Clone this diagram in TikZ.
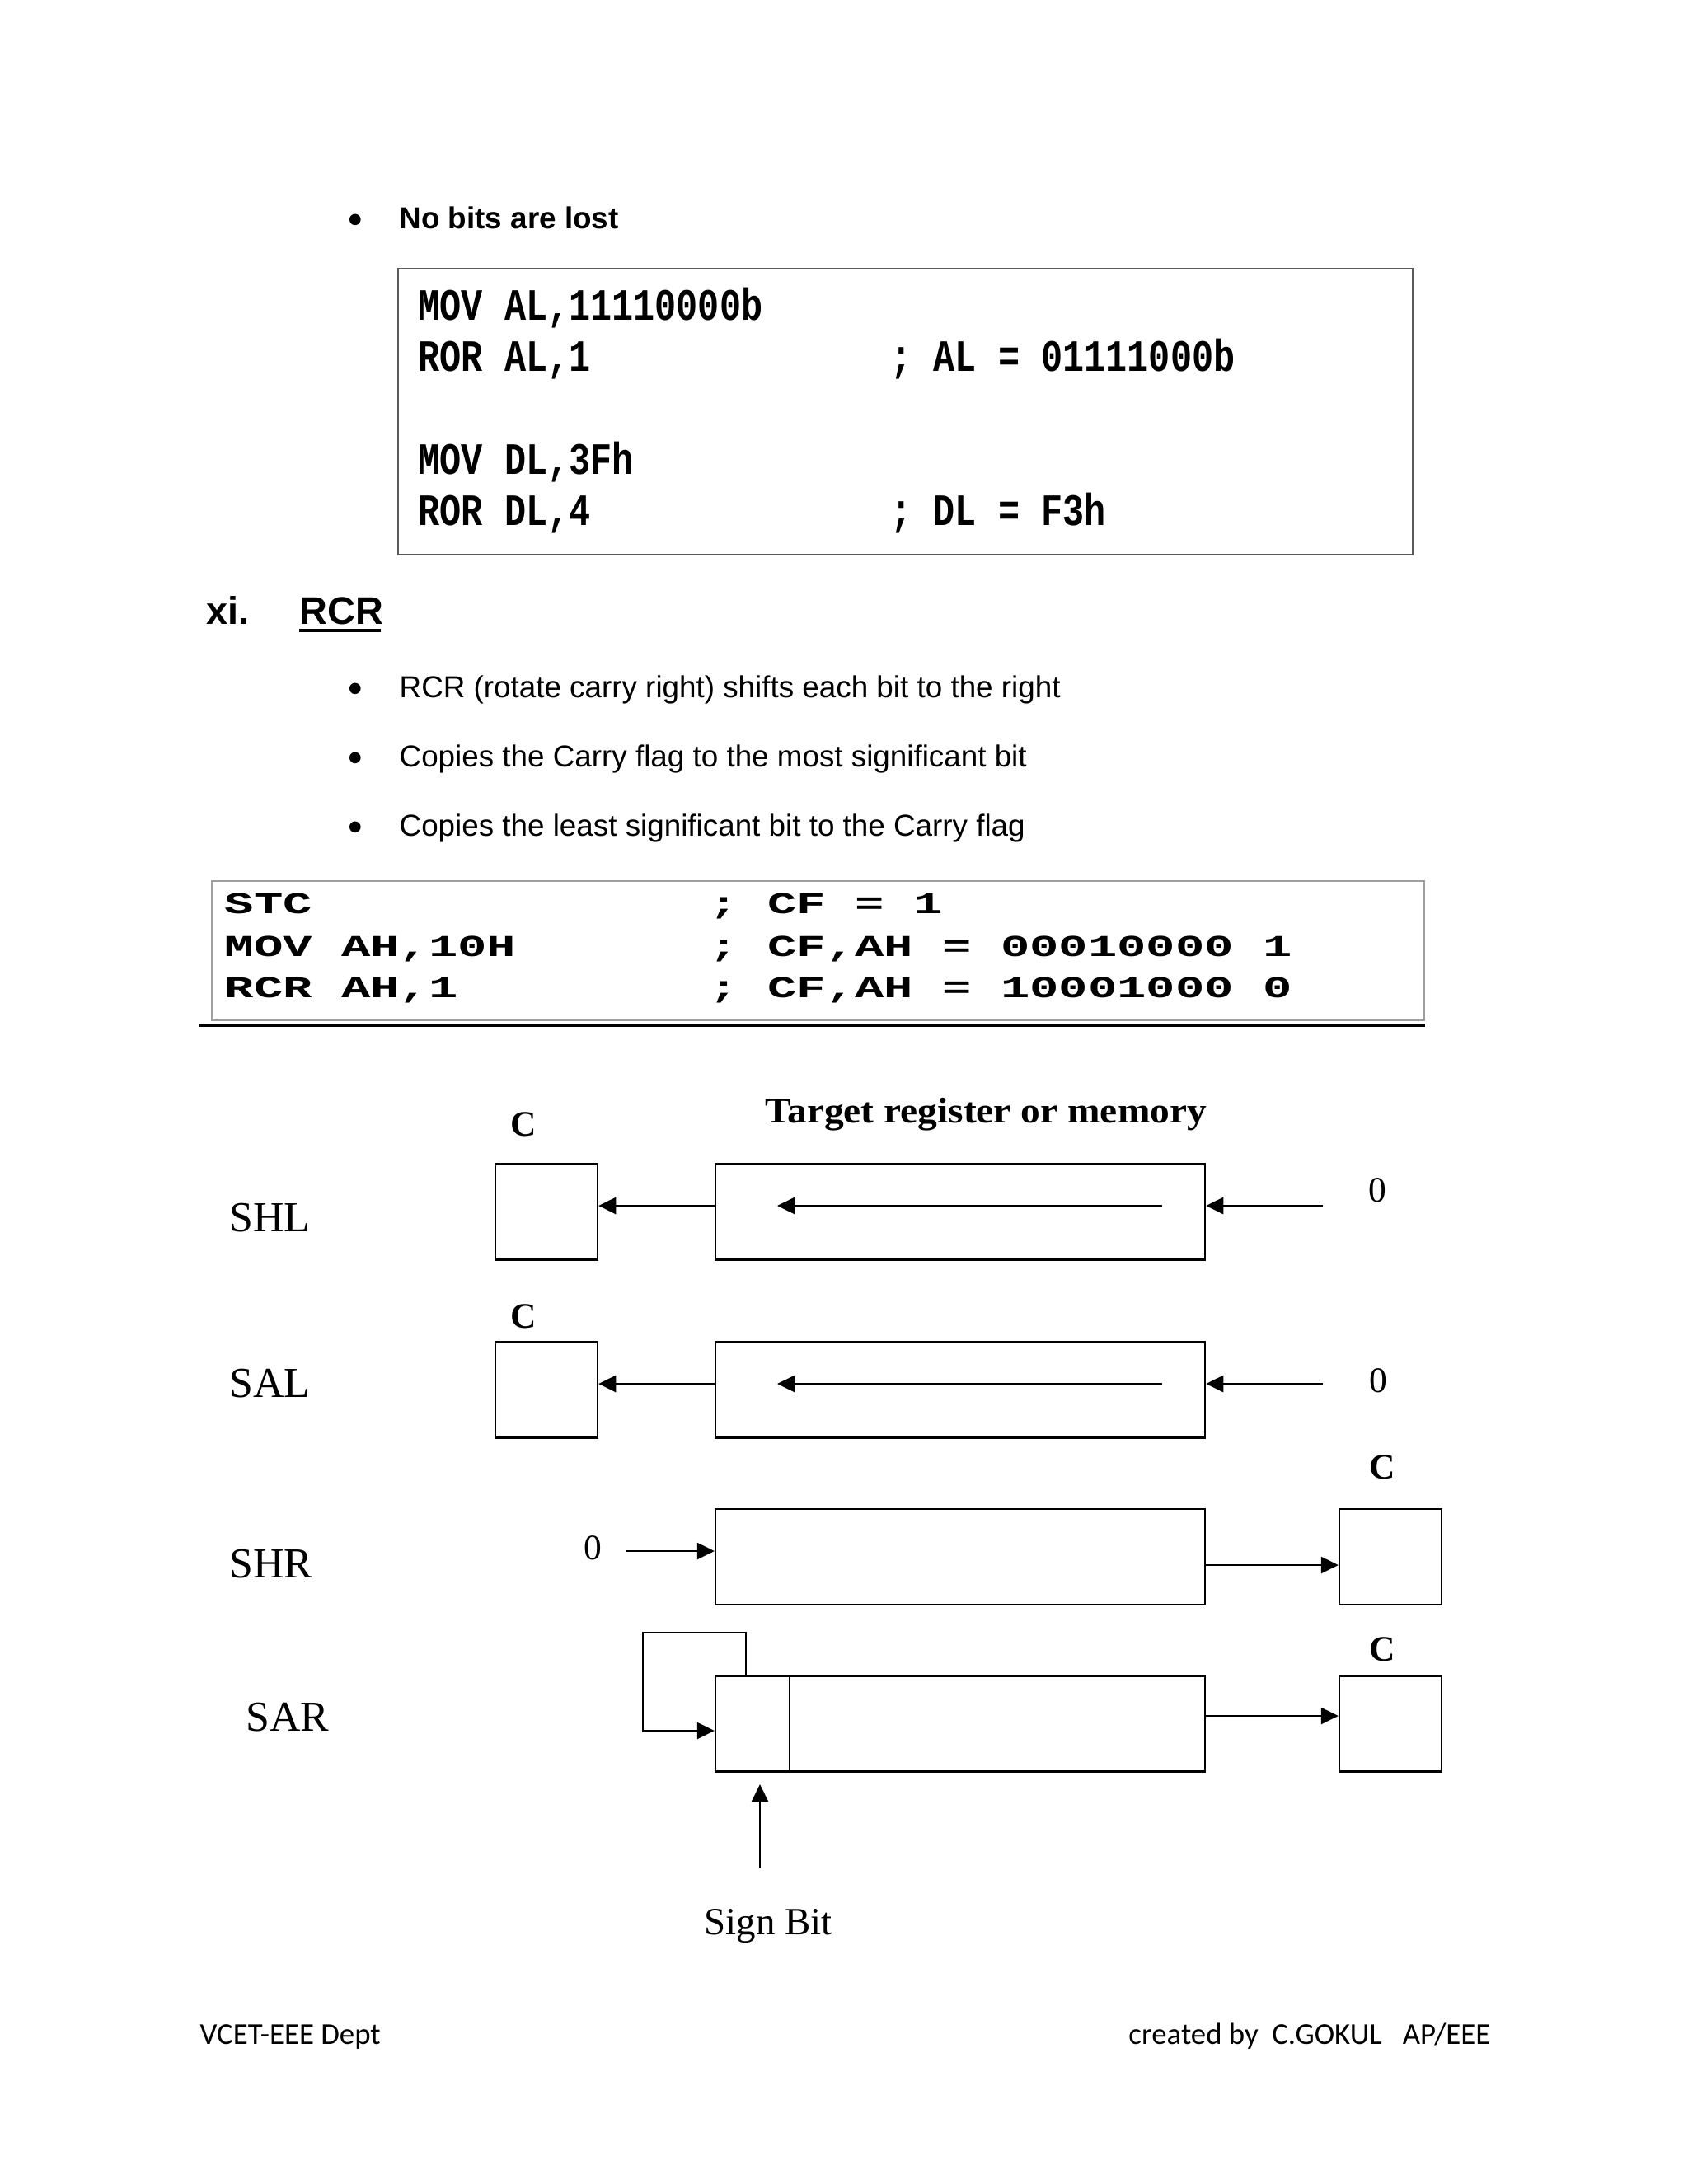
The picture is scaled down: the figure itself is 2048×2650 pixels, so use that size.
\documentclass[tikz,border=0pt]{standalone}
\usepackage{fontspec}
\usepackage{graphicx}
\usetikzlibrary{arrows.meta}
\newfontfamily\arialf{Liberation Sans}
\newfontfamily\courf{Liberation Mono}
\newfontfamily\tnrf{Liberation Serif}
\newfontfamily\calf{Carlito}
\newcommand\codeA[1]{\scalebox{1}[1.25]{#1}}
\newcommand\codeB[1]{\scalebox{1.6}[1]{#1}}
\begin{document}
\begin{tikzpicture}[x=0.29883pt,y=-0.29883pt,
  txt/.style={inner sep=0,anchor=base west},
  body/.style={txt,font=\arialf\fontsize{11}{13}\selectfont},
  bul/.style={inner sep=0,anchor=base,font=\arialf\fontsize{15}{17}\selectfont},
  cA/.style={txt,font=\courf\bfseries\fontsize{13}{15}\selectfont},
  cB/.style={txt,font=\courf\bfseries\fontsize{11}{13}\selectfont},
  serif/.style={inner sep=0,anchor=base west,font=\tnrf\fontsize{15.5}{18}\selectfont},
  clbl/.style={inner sep=0,anchor=base,font=\tnrf\bfseries\fontsize{13}{15}\selectfont},
  zlbl/.style={inner sep=0,anchor=base,font=\tnrf\fontsize{13}{15}\selectfont},
  reg/.style={draw,line width=0.7pt,inner sep=0,minimum width={594*0.29883pt},minimum height={116*0.29883pt}},
  cbox/.style={draw,line width=0.7pt,inner sep=0,minimum width={124*0.29883pt},minimum height={116*0.29883pt}},
  arr/.style={line width=0.7pt,-{Triangle[length=6.3pt,width=6pt]}},
  ln/.style={line width=0.7pt}]
\useasboundingbox (0,0) rectangle (2048,2650);

% --- first bullet and code box
\node[bul] (b0) at (431,283) {•};
\node[body,font=\arialf\bfseries\fontsize{11}{13}\selectfont] (t0) at (484,277) {No bits are lost};
\draw[line width=0.75pt,draw=gray!70!black] (483,326) rectangle (1714,673);
\node[cA] (c1a) at (507,388) {\codeA{MOV AL,11110000b}};
\node[cA] (c1b) at (507,450) {\codeA{ROR AL,1}};
\node[cA] (c1bc) at (1080,450) {\codeA{; AL = 01111000b}};
\node[cA] (c1c) at (507,575) {\codeA{MOV DL,3Fh}};
\node[cA] (c1d) at (507,637) {\codeA{ROR DL,4}};
\node[cA] (c1dc) at (1080,637) {\codeA{; DL = F3h}};

% --- heading
\node[txt,font=\arialf\bfseries\fontsize{14}{17}\selectfont] (hxi) at (250,757) {xi.};
\node[txt,font=\arialf\bfseries\fontsize{14}{17}\selectfont] (hrcr) at (363,757) {RCR};
\draw[line width=1.2pt] (363,765) -- (462,765);

% --- bullets
\node[bul] (b1) at (431,852) {•};
\node[body] (t1) at (484,846) {RCR (rotate carry right) shifts each bit to the right};
\node[bul] (b2) at (431,936) {•};
\node[body] (t2) at (484,930) {Copies the Carry flag to the most significant bit};
\node[bul] (b3) at (431,1020) {•};
\node[body] (t3) at (484,1014) {Copies the least significant bit to the Carry flag};

% --- second code box
\draw[line width=0.75pt,draw=gray!75] (257,1069) rectangle (1728,1238);
\draw[line width=1.35pt] (241,1244) -- (1729,1244);
\node[cB] (c2a) at (272,1108) {\codeB{STC}};
\node[cB] (c2ac) at (860,1108) {\codeB{; CF = 1}};
\node[cB] (c2b) at (272,1160) {\codeB{MOV AH,10H}};
\node[cB] (c2bc) at (860,1160) {\codeB{; CF,AH = 00010000 1}};
\node[cB] (c2c) at (272,1210) {\codeB{RCR AH,1}};
\node[cB] (c2cc) at (860,1210) {\codeB{; CF,AH = 10001000 0}};

% --- diagram labels
\node[inner sep=0,anchor=base,font=\tnrf\bfseries\fontsize{13}{15}\selectfont] (tgt) at (1196,1362) {\scalebox{1.09}[1]{Target register or memory}};
\node[clbl] (cl1) at (635,1378) {C};
\node[clbl] (cl2) at (635,1611) {C};
\node[clbl] (cl3) at (1677,1794) {C};
\node[clbl] (cl4) at (1677,2015) {C};
\node[serif] (lshl) at (278,1494) {SHL};
\node[serif] (lsal) at (278,1695) {SAL};
\node[serif] (lshr) at (278,1914) {SHR};
\node[serif] (lsar) at (298,2100) {SAR};
\node[zlbl] (z1) at (1671,1458) {0};
\node[zlbl] (z2) at (1672,1689) {0};
\node[zlbl] (z3) at (719,1892) {0};
\node[inner sep=0,anchor=base,font=\tnrf\fontsize{14}{16}\selectfont] (sgn) at (932,2347) {Sign Bit};

% --- boxes
\node[reg] (r1) at (1165,1470.5) {};
\node[cbox] (k1) at (663,1470.5) {};
\node[reg] (r2) at (1165,1686.5) {};
\node[cbox] (k2) at (663,1686.5) {};
\node[reg] (r3) at (1165,1889) {};
\node[cbox] (k3) at (1687,1889) {};
\node[reg] (r4) at (1165,2091.5) {};
\node[cbox] (k4) at (1687,2091.5) {};
\draw[ln] (958,2033.5) -- (958,2149.5);

% --- SHL arrows
\coordinate (s1a) at (1410,1463);
\coordinate (s1b) at (943,1463);
\coordinate (s1c) at (1605,1463);
\draw[arr] (r1.west |- 0,1463) -- (k1.east |- 0,1463);
\draw[arr] (s1a) -- (s1b);
\draw[arr] (s1c) -- (r1.east |- 0,1463);
% --- SAL arrows
\coordinate (s2a) at (1410,1679);
\coordinate (s2b) at (943,1679);
\coordinate (s2c) at (1605,1679);
\draw[arr] (r2.west |- 0,1679) -- (k2.east |- 0,1679);
\draw[arr] (s2a) -- (s2b);
\draw[arr] (s2c) -- (r2.east |- 0,1679);
% --- SHR arrows
\coordinate (s3a) at (760,1882);
\draw[arr] (s3a) -- (r3.west |- 0,1882);
\draw[arr] (r3.east |- 0,1899) -- (k3.west |- 0,1899);
% --- SAR arrows
\draw[arr] (r4.north -| 905,0) -- (905,1981) -- (780,1981) -- (780,2100) -- (r4.west |- 0,2100);
\draw[arr] (r4.east |- 0,2082) -- (k4.west |- 0,2082);
\coordinate (sbA) at (922,2267);
\coordinate (sbB) at (922,2165);
\draw[arr] (sbA) -- (sbB);

% --- footer
\node[txt,font=\calf\fontsize{11}{13}\selectfont] (f1) at (242,2480) {VCET-EEE Dept};
\node[txt,anchor=base east,font=\calf\fontsize{11}{13}\selectfont] (f2) at (1809,2480) {created by\ \ C.GOKUL\ \ \ AP/EEE};
\end{tikzpicture}
\end{document}
